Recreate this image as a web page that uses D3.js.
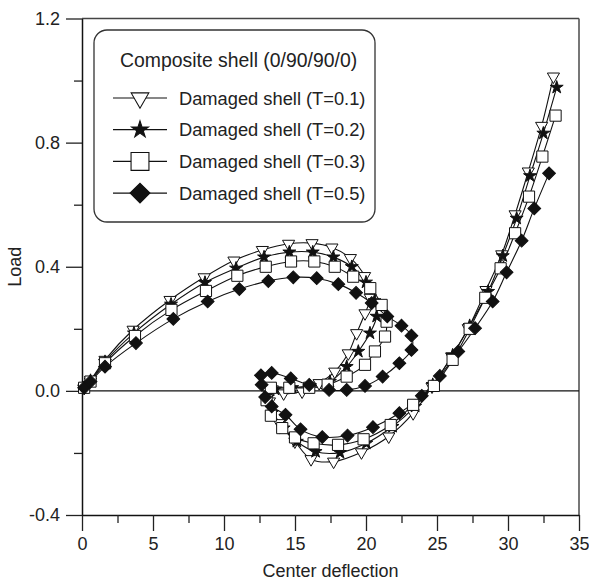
<!DOCTYPE html>
<html>
<head>
<meta charset="utf-8">
<script src="https://cdn.jsdelivr.net/npm/d3@7/dist/d3.min.js"></script>
<style>
  html, body { margin: 0; padding: 0; background: #fff; }
  svg { display: block; }
  text { font-family: "Liberation Sans", Arial, Helvetica, sans-serif; fill: #222; }
</style>
</head>
<body>
<svg id="chart" width="589" height="581"></svg>
<script>
// Load vs. center deflection of a (0/90/90/0) composite shell, four damage levels
const seriesNames = ["Damaged shell (T=0.1)", "Damaged shell (T=0.2)", "Damaged shell (T=0.3)", "Damaged shell (T=0.5)"];
const markerTypes = ["triangleDown", "star", "square", "diamond"];

const deflT01 = [0.15, 0.6, 1.62, 3.6, 6.2, 8.6, 10.7, 12.7, 14.55, 16.2, 17.6, 18.9, 19.9, 20.3, 19.93, 19.34, 18.75, 17.8, 16.7, 15.5, 14.2, 13.4, 13.2, 13.9, 14.99, 16.13, 17.72, 19.68, 21.6, 23.32, 24.65, 26.03, 27.2, 28.45, 29.56, 30.5, 31.43, 32.37, 33.2];
const loadT01 = [0.01, 0.035, 0.10, 0.197, 0.293, 0.366, 0.42, 0.454, 0.474, 0.476, 0.462, 0.428, 0.37, 0.30, 0.25, 0.186, 0.121, 0.062, 0.025, -0.002, -0.008, 0.005, -0.034, -0.104, -0.163, -0.22, -0.228, -0.198, -0.147, -0.072, 0.014, 0.111, 0.202, 0.325, 0.44, 0.569, 0.707, 0.854, 1.013];

const deflT02 = [0.15, 0.6, 1.62, 3.66, 6.27, 8.66, 10.85, 12.82, 14.6, 16.25, 17.7, 19.0, 20.0, 20.6, 20.75, 20.28, 19.46, 18.64, 17.46, 16.06, 14.8, 13.6, 13.1, 13.4, 14.2, 15.13, 16.45, 18.17, 20.02, 21.87, 23.46, 24.7, 26.1, 27.3, 28.6, 29.63, 30.61, 31.55, 32.49, 33.43];
const loadT02 = [0.01, 0.033, 0.094, 0.186, 0.279, 0.349, 0.395, 0.431, 0.447, 0.447, 0.431, 0.40, 0.35, 0.29, 0.24, 0.186, 0.127, 0.078, 0.03, 0.016, 0.01, 0.005, -0.02, -0.07, -0.12, -0.163, -0.196, -0.199, -0.169, -0.115, -0.05, 0.02, 0.115, 0.21, 0.32, 0.435, 0.556, 0.693, 0.83, 0.978];

const deflT03 = [0.15, 0.6, 1.62, 3.73, 6.3, 8.73, 10.94, 12.94, 14.72, 16.36, 17.8, 19.1, 20.3, 21.1, 21.45, 21.34, 20.63, 19.93, 18.64, 17.3, 16.0, 14.6, 13.3, 13.0, 13.3, 14.1, 15.0, 16.31, 18.03, 19.83, 21.74, 23.32, 24.78, 26.1, 27.3, 28.4, 29.48, 30.5, 31.48, 32.42, 33.35];
const loadT03 = [0.01, 0.03, 0.089, 0.177, 0.261, 0.322, 0.371, 0.40, 0.417, 0.417, 0.40, 0.368, 0.331, 0.277, 0.223, 0.175, 0.127, 0.084, 0.046, 0.02, 0.01, 0.01, 0.01, -0.03, -0.08, -0.12, -0.15, -0.169, -0.174, -0.156, -0.11, -0.045, 0.016, 0.10, 0.20, 0.30, 0.395, 0.508, 0.626, 0.755, 0.887];

const deflT05 = [0.15, 0.6, 1.62, 3.8, 6.43, 8.85, 11.08, 13.12, 14.88, 16.53, 18.05, 19.3, 20.4, 21.5, 22.5, 23.2, 23.2, 22.35, 21.17, 19.93, 18.64, 17.4, 16.0, 14.7, 13.36, 12.6, 12.65, 12.9, 13.36, 14.33, 15.39, 16.92, 18.7, 20.49, 22.35, 23.93, 25.2, 26.5, 27.68, 28.92, 29.9, 30.96, 31.85, 32.89];
const loadT05 = [0.01, 0.03, 0.078, 0.154, 0.232, 0.288, 0.328, 0.354, 0.366, 0.363, 0.344, 0.316, 0.283, 0.24, 0.21, 0.178, 0.132, 0.089, 0.046, 0.016, 0.003, 0.003, 0.019, 0.04, 0.058, 0.05, 0.02, -0.02, -0.05, -0.077, -0.124, -0.149, -0.144, -0.117, -0.072, -0.016, 0.048, 0.127, 0.202, 0.288, 0.382, 0.484, 0.588, 0.701];

const xTicksMajor = [0, 5, 10, 15, 20, 25, 30, 35];
const xTicksMinor = [2.5, 7.5, 12.5, 17.5, 22.5, 27.5, 32.5];
const yTicksMajor = [-0.4, 0.0, 0.4, 0.8, 1.2];
const yTickLabels = ["-0.4", "0.0", "0.4", "0.8", "1.2"];
const yTicksMinor = [-0.2, 0.2, 0.6, 1.0];

const legendTitle = "Composite shell (0/90/90/0)";
const xTitle = "Center deflection";
const yTitle = "Load";

const deflSets = [deflT01, deflT02, deflT03, deflT05];
const loadSets = [loadT01, loadT02, loadT03, loadT05];
const series = seriesNames.map((name, i) => ({
  name,
  marker: markerTypes[i],
  points: deflSets[i].map((d, j) => ({ x: d, y: loadSets[i][j] }))
}));

const svg = d3.select("#chart");
const margin = { left: 82, right: 10, top: 18.5, bottom: 66 };
const W = 589, H = 581;

const x = d3.scaleLinear().domain([0, 35]).range([margin.left, W - margin.right]);
const y = d3.scaleLinear().domain([-0.4, 1.2]).range([H - margin.bottom, margin.top]);

// frame: top and right edges
svg.append("line").attr("x1", x(0)).attr("x2", x(35)).attr("y1", y(1.2)).attr("y2", y(1.2))
  .attr("stroke", "#444").attr("stroke-width", 1.4);
svg.append("line").attr("x1", x(35)).attr("x2", x(35)).attr("y1", y(1.2)).attr("y2", y(-0.4))
  .attr("stroke", "#555").attr("stroke-width", 1.6);

// zero load line
svg.append("line").attr("x1", x(0)).attr("x2", x(35)).attr("y1", y(0)).attr("y2", y(0))
  .attr("stroke", "#111").attr("stroke-width", 1.1);

// axes
const xAxis = d3.axisBottom(x).tickValues(xTicksMajor).tickSize(16).tickSizeOuter(0).tickFormat(d3.format("d"));
const xAxisMinor = d3.axisBottom(x).tickValues(xTicksMinor).tickSize(8).tickSizeOuter(0).tickFormat("");
const yAxis = d3.axisLeft(y).tickValues(yTicksMajor).tickSize(16).tickSizeOuter(0)
  .tickFormat((d, i) => yTickLabels[i]);
const yAxisMinor = d3.axisLeft(y).tickValues(yTicksMinor).tickSize(8).tickSizeOuter(0).tickFormat("");

function styleAxis(g) {
  g.selectAll("path.domain").attr("stroke", "#111").attr("stroke-width", 1.5);
  g.selectAll(".tick line").attr("stroke", "#222").attr("stroke-width", 1.3);
  g.selectAll(".tick text").style("font-size", "18px").style("font-family", "'Liberation Sans', Arial, sans-serif").attr("fill", "#222");
}

const gx = svg.append("g").attr("transform", `translate(0,${y(-0.4)})`).call(xAxis);
styleAxis(gx);
gx.selectAll(".tick text").attr("dy", "1.05em").attr("y", 16);
const gxm = svg.append("g").attr("transform", `translate(0,${y(-0.4)})`).call(xAxisMinor);
styleAxis(gxm);
gxm.select("path.domain").remove();

const gy = svg.append("g").attr("transform", `translate(${x(0)},0)`).call(yAxis);
styleAxis(gy);
gy.selectAll(".tick text").attr("x", -22);
const gym = svg.append("g").attr("transform", `translate(${x(0)},0)`).call(yAxisMinor);
styleAxis(gym);
gym.select("path.domain").remove();

// axis titles
svg.append("text").attr("x", (x(0) + x(35)) / 2).attr("y", 577)
  .attr("text-anchor", "middle").style("font-size", "18px").text(xTitle);
svg.append("text").attr("transform", `translate(21,${(y(-0.4) + y(1.2)) / 2}) rotate(-90)`)
  .attr("text-anchor", "middle").style("font-size", "18px").text(yTitle);

// marker shapes (area-based symbol sizes)
const markerArea = { triangleDown: 64, star: 52, square: 125, diamond: 82 };
const legendScale = { triangleDown: 1.45, star: 1.3, square: 1.6, diamond: 1.55 };
function markerPath(type, scale) {
  const a = markerArea[type] * scale * scale;
  if (type === "triangleDown") return d3.symbol(d3.symbolTriangle, a)();
  if (type === "star") return d3.symbol(d3.symbolStar, a)();
  return d3.symbol(d3.symbolSquare, a)();
}
function markerTransform(type) {
  if (type === "triangleDown") return " rotate(180)";
  if (type === "diamond") return " rotate(45)";
  return "";
}
function markerFill(type) {
  return (type === "star" || type === "diamond") ? "#111" : "#fff";
}

const line = d3.line().x(d => x(d.x)).y(d => y(d.y)).curve(d3.curveCatmullRom.alpha(0.5));

const plot = svg.append("g");
series.forEach(s => {
  plot.append("path").datum(s.points).attr("d", line)
    .attr("fill", "none").attr("stroke", "#111").attr("stroke-width", 1.1);
});
series.forEach(s => {
  plot.append("g").selectAll("path").data(s.points).join("path")
    .attr("d", markerPath(s.marker, 1))
    .attr("transform", d => `translate(${x(d.x)},${y(d.y)})` + markerTransform(s.marker))
    .attr("fill", markerFill(s.marker)).attr("stroke", "#111").attr("stroke-width", 1);
});

// legend
const lg = svg.append("g");
lg.append("rect").attr("x", 94).attr("y", 30).attr("width", 281).attr("height", 192)
  .attr("rx", 13).attr("ry", 13).attr("fill", "#fff").attr("stroke", "#333").attr("stroke-width", 1.3);
lg.append("text").attr("x", 120).attr("y", 67).style("font-size", "19.4px").text(legendTitle);
series.forEach((s, i) => {
  const cy = 98 + i * 31.7;
  lg.append("line").attr("x1", 113).attr("x2", 167).attr("y1", cy).attr("y2", cy)
    .attr("stroke", "#111").attr("stroke-width", 1.2);
  lg.append("path").attr("d", markerPath(s.marker, legendScale[s.marker]))
    .attr("transform", `translate(140,${cy})` + markerTransform(s.marker))
    .attr("fill", markerFill(s.marker)).attr("stroke", "#111").attr("stroke-width", 1.1);
  lg.append("text").attr("x", 179).attr("y", cy + 6.5).style("font-size", "18.3px").text(s.name);
});
</script>
</body>
</html>
